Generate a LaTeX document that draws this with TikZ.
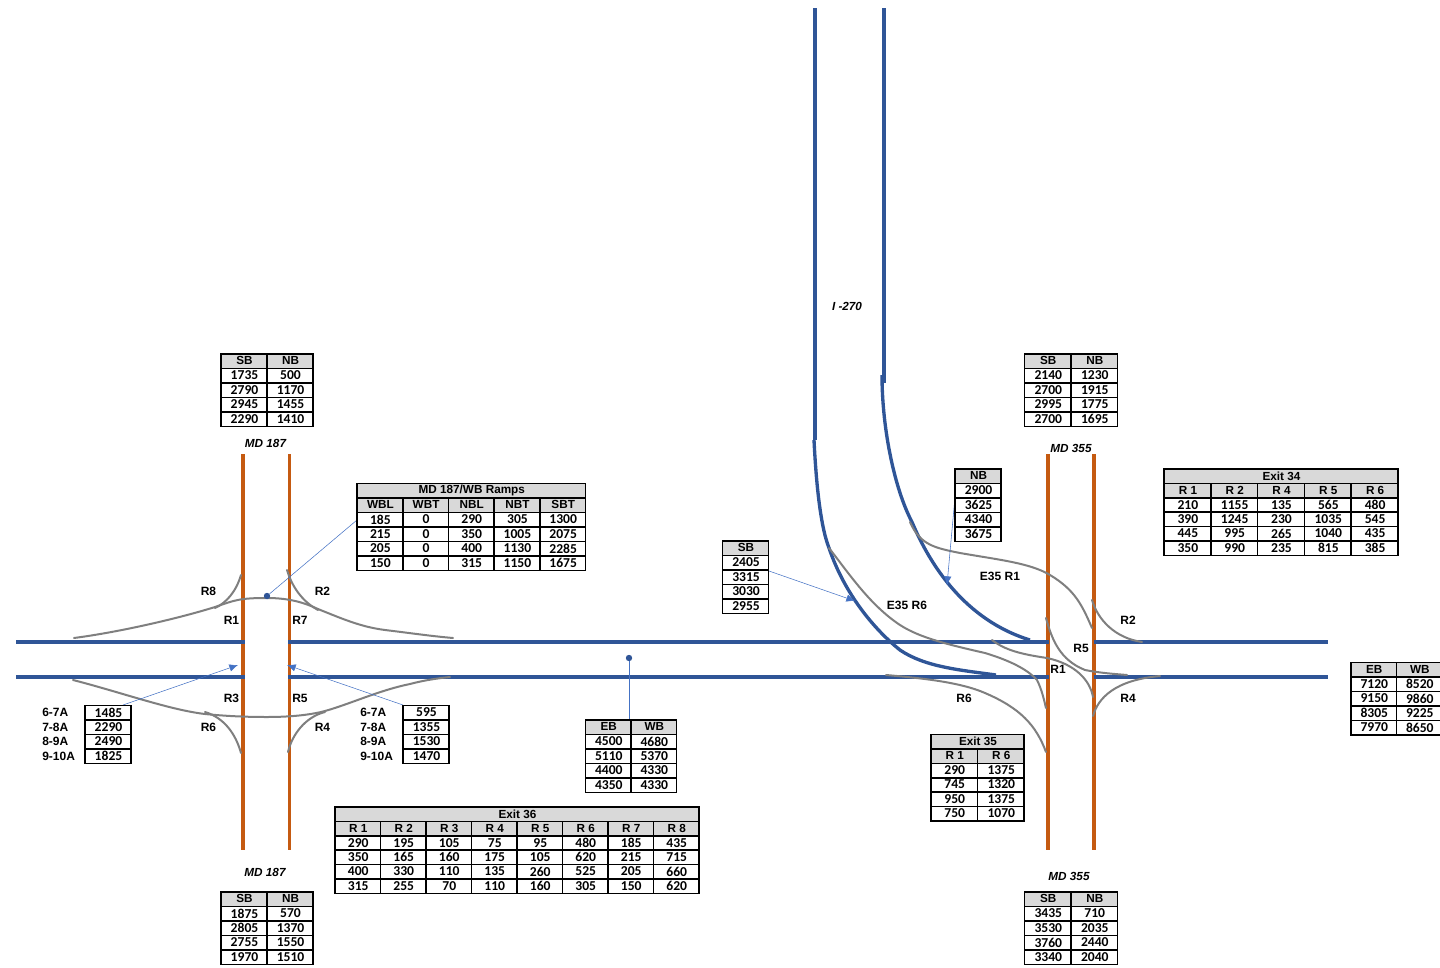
\documentclass[tikz,border=0pt]{standalone}
\usepackage{fontspec}
\usetikzlibrary{arrows.meta}
\setmainfont{Liberation Sans}
\newfontfamily\numfont{Carlito}
\definecolor{road}{HTML}{2F5597}
\definecolor{arterial}{HTML}{C55A11}
\definecolor{ramp}{HTML}{7F7F7F}
\definecolor{callout}{HTML}{4472C4}
\definecolor{hdr}{HTML}{D9D9D9}
\tikzset{
  roadline/.style={draw=road,line width=2.6pt},
  iroad/.style={draw=road,line width=2.5pt},
  artline/.style={draw=arterial,line width=2.3pt},
  rampline/.style={draw=ramp,line width=1.5pt,line cap=round},
  calloutline/.style={draw=callout,line width=0.4pt},
  calloutarrow/.style={calloutline,-{Latex[length=6.5pt,width=5.5pt]}},
  dotnode/.style={circle,fill=road,minimum size=4.8pt,inner sep=0pt},
  lab/.style={font=\bfseries\fontsize{9}{10}\selectfont,inner sep=0pt},
  ilab/.style={font=\bfseries\itshape\fontsize{8.8}{10}\selectfont,inner sep=0pt},
  tlab/.style={lab,anchor=west},
  hcell/.style={draw=black,line width=1.2pt,fill=hdr,inner sep=0pt,outer sep=0pt,font=\bfseries\fontsize{8.8}{9}\selectfont},
  dcell/.style={draw=black,line width=1.2pt,fill=white,inner sep=0pt,outer sep=0pt,font=\numfont\bfseries\fontsize{10.2}{10}\selectfont},
}
% name, x0, y, cell width, cell height, style, cells
\newcommand\trow[7]{%
  \foreach \c [count=\i] in #7 {%
    \pgfmathsetmacro\cx{#2+(\i-.5)*#4}%
    \pgfmathsetmacro\cy{#3+#5/2}%
    \node[#6,minimum width={#4*0.75pt},minimum height={#5*0.75pt}] (#1-\i) at (\cx,\cy) {\hspace*{0.8pt}\raisebox{0.6pt}{\c}};
  }%
}
% name, x0, y0, width, height, rows
\newcommand\tdata[6]{%
  \foreach \r [count=\j] in {#6} {%
    \pgfmathsetmacro\ry{#3+(\j-1)*#5}%
    \trow{#1-\j}{#2}{\ry}{#4}{#5}{dcell}{\r}
  }%
}
\begin{document}
\begin{tikzpicture}[x=0.75pt,y=-0.75pt]
\useasboundingbox (0,0) rectangle (1440,968);
% arterials
\coordinate (a1t) at (243,454); \coordinate (a1b) at (243,850);
\coordinate (a2t) at (289.5,454); \coordinate (a2b) at (289.5,850);
\coordinate (a3t) at (1048,454); \coordinate (a3b) at (1048,850);
\coordinate (a4t) at (1094,454); \coordinate (a4b) at (1094,850);
\draw[artline] (a1t) -- (a1b);
\draw[artline] (a2t) -- (a2b);
\draw[artline] (a3t) -- (a3b);
\draw[artline] (a4t) -- (a4b);
% freeway
\foreach \y in {642,677} {
  \draw[roadline] (16,\y) -- (245,\y);
  \draw[roadline] (288,\y) -- (1049,\y);
  \draw[roadline] (1094,\y) -- (1328,\y);
}
% I-270
\draw[iroad] (815,8) -- (815,440);
\draw[iroad] (884,8) -- (884,383);
\draw[iroad] (814,440) .. controls (816,480) and (820,525) .. (829,548) .. controls (845,595) and (875,630) .. (900,650) .. controls (925,667) and (960,670) .. (996,675);
\draw[iroad] (882,375) .. controls (882,430) and (895,490) .. (912,522) .. controls (930,565) and (965,620) .. (1030,640);
% ramps, west
\draw[rampline] (74,638) .. controls (120,632) and (180,618) .. (215,607) .. controls (235,600) and (240,598) .. (267,598) .. controls (290,598) and (305,603) .. (318,609) .. controls (345,620) and (362,627) .. (385,630) .. controls (410,633) and (430,636) .. (453,638);
\draw[rampline] (241,575) .. controls (236,592) and (226,603) .. (215,608);
\draw[rampline] (287,570) .. controls (293,590) and (305,603) .. (318,610);
\draw[rampline] (73,680) .. controls (120,692) and (170,710) .. (205,714) .. controls (225,716) and (245,717) .. (267,717) .. controls (290,717) and (310,715) .. (325,711) .. controls (350,704) and (380,690) .. (410,684) .. controls (425,680) and (440,678) .. (450,677);
\draw[rampline] (205,712) .. controls (225,718) and (236,735) .. (241,753);
\draw[rampline] (325,712) .. controls (305,717) and (292,735) .. (288,752);
% ramps, east
\draw[rampline] (910,522) .. controls (920,545) and (935,548) .. (960,553) .. controls (1000,560) and (1030,563) .. (1050,575) .. controls (1075,590) and (1082,605) .. (1092,628);
\draw[rampline] (829,548) .. controls (850,575) and (870,605) .. (900,625) .. controls (920,638) and (950,645) .. (985,653) .. controls (1015,662) and (1030,672) .. (1037,680) .. controls (1042,690) and (1044,700) .. (1046,708);
\draw[rampline] (886,675) .. controls (920,678) and (960,682) .. (985,693) .. controls (1020,708) and (1036,725) .. (1046,752);
\draw[rampline] (992,640) .. controls (1005,650) and (1020,654) .. (1047,658) .. controls (1075,664) and (1090,680) .. (1093,697);
\draw[rampline] (1046,618) .. controls (1052,640) and (1060,660) .. (1085,670) .. controls (1100,673) and (1115,674) .. (1127,675);
\draw[rampline] (1092,600) .. controls (1098,620) and (1115,638) .. (1142,642);
\draw[rampline] (1093,716) .. controls (1098,698) and (1115,680) .. (1160,676);
% callouts
\node[dotnode] (dotW) at (267,596) {};
\node[dotnode] (dotE) at (629,658) {};
\coordinate (tipA) at (238,665);
\coordinate (tipB) at (287,665);
\coordinate (tipC) at (855,601);
\coordinate (tipD) at (947,585);
\coordinate (fromA) at (123,705);
\coordinate (fromB) at (403,705);
\coordinate (fromC) at (769,571);
\coordinate (fromD) at (955,497);
\coordinate (fromE) at (357,520);
\coordinate (fromF) at (629,720);
\draw[calloutline] (fromE) -- (dotW);
\draw[calloutline] (fromF) -- (dotE);
\draw[calloutarrow] (fromA) -- (tipA);
\draw[calloutarrow] (fromB) -- (tipB);
\draw[calloutarrow] (fromC) -- (tipC);
\draw[calloutarrow] (fromD) -- (tipD);
% labels
\node[ilab] (li) at (847,306.5) {I -270};
\node[ilab] (lm1) at (265.5,443.5) {MD 187};
\node[ilab] (lm2) at (265,872.5) {MD 187};
\node[ilab] (lm3) at (1071,448.5) {MD 355};
\node[ilab] (lm4) at (1069,876.5) {MD 355};
\node[lab] (w8) at (208.5,591.5) {R8};
\node[lab] (w2) at (322.5,591.5) {R2};
\node[lab] (w1) at (231.5,620.5) {R1};
\node[lab] (w7) at (300,620.5) {R7};
\node[lab] (w3) at (231.5,698.5) {R3};
\node[lab] (w5) at (300,698.5) {R5};
\node[lab] (w6) at (208.5,727.5) {R6};
\node[lab] (w4) at (322.5,727.5) {R4};
\node[lab] (e35a) at (1000,576.5) {E35 R1};
\node[lab] (e35b) at (907,605.5) {E35 R6};
\node[lab] (e2) at (1128,620.5) {R2};
\node[lab] (e5) at (1081,648.5) {R5};
\node[lab] (e1) at (1058,669.5) {R1};
\node[lab] (e6) at (964,698.5) {R6};
\node[lab] (e4) at (1128,698.5) {R4};
\foreach \t/\y [count=\k] in {6-7A/712.5,7-8A/727.5,8-9A/741.5,9-10A/756.5} {
  \node[tlab] (tl\k) at (42,\y) {\t};
  \node[tlab] (tr\k) at (360,\y) {\t};
}
% tables
\trow{ta-h}{221}{354}{46}{14.5}{hcell}{{SB,NB}}
\tdata{ta}{221}{368.5}{46}{14.5}{{1735,500},{2790,1170},{2945,1455},{2290,1410}}
\trow{tb-t}{357}{483.5}{228.5}{14.5}{hcell}{{MD 187/WB Ramps}}
\trow{tb-h}{357}{498}{45.7}{14.5}{hcell}{{WBL,WBT,NBL,NBT,SBT}}
\tdata{tb}{357}{512.5}{45.7}{14.5}{{185,0,290,305,1300},{215,0,350,1005,2075},{205,0,400,1130,2285},{150,0,315,1150,1675}}
\tdata{tc}{85}{705.5}{46}{14.5}{{1485},{2290},{2490},{1825}}
\tdata{td}{403}{705.5}{46}{14.5}{{595},{1355},{1530},{1470}}
\trow{te-h}{585.5}{720}{45.5}{14.5}{hcell}{{EB,WB}}
\tdata{te}{585.5}{734.5}{45.5}{14.5}{{4500,4680},{5110,5370},{4400,4330},{4350,4330}}
\trow{tf-t}{335}{807}{364}{14.4}{hcell}{{Exit 36}}
\trow{tf-h}{335}{821.4}{45.5}{14.4}{hcell}{{R 1,R 2,R 3,R 4,R 5,R 6,R 7,R 8}}
\tdata{tf}{335}{835.8}{45.5}{14.4}{{290,195,105,75,95,480,185,435},{350,165,160,175,105,620,215,715},{400,330,110,135,260,525,205,660},{315,255,70,110,160,305,150,620}}
\trow{tg-h}{221}{892}{46}{14.5}{hcell}{{SB,NB}}
\tdata{tg}{221}{906.5}{46}{14.5}{{1875,570},{2805,1370},{2755,1550},{1970,1510}}
\trow{th-h}{1024.5}{354}{46.5}{14.5}{hcell}{{SB,NB}}
\tdata{th}{1024.5}{368.5}{46.5}{14.5}{{2140,1230},{2700,1915},{2995,1775},{2700,1695}}
\trow{ti-h}{955}{469}{46}{14.5}{hcell}{{NB}}
\tdata{ti}{955}{483.5}{46}{14.5}{{2900},{3625},{4340},{3675}}
\trow{tj-t}{1164}{469}{234}{14.4}{hcell}{{Exit 34}}
\trow{tj-h}{1164}{483.4}{46.8}{14.4}{hcell}{{R 1,R 2,R 4,R 5,R 6}}
\tdata{tj}{1164}{497.8}{46.8}{14.4}{{210,1155,135,565,480},{390,1245,230,1035,545},{445,995,265,1040,435},{350,990,235,815,385}}
\trow{tk-h}{722.5}{541}{46}{14.5}{hcell}{{SB}}
\tdata{tk}{722.5}{555.5}{46}{14.5}{{2405},{3315},{3030},{2955}}
\trow{tl-h}{1351}{662.5}{45.5}{14.5}{hcell}{{EB,WB}}
\tdata{tl}{1351}{677}{45.5}{14.5}{{7120,8520},{9150,9860},{8305,9225},{7970,8650}}
\trow{tm-t}{931}{734.5}{93}{14.4}{hcell}{{Exit 35}}
\trow{tm-h}{931}{748.9}{46.5}{14.4}{hcell}{{R 1,R 6}}
\tdata{tm}{931}{763.3}{46.5}{14.4}{{290,1375},{745,1320},{950,1375},{750,1070}}
\trow{tn-h}{1024.5}{892}{46.5}{14.5}{hcell}{{SB,NB}}
\tdata{tn}{1024.5}{906.5}{46.5}{14.5}{{3435,710},{3530,2035},{3760,2440},{3340,2040}}
\end{tikzpicture}
\end{document}
